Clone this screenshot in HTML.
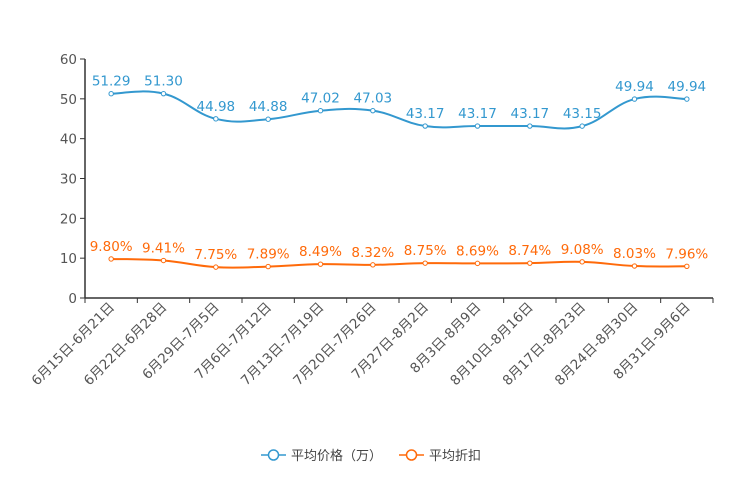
<!DOCTYPE html>
<html><head><meta charset="utf-8"><style>
body{margin:0;background:#fff;}
svg{font-family:"DejaVu Sans","Noto Sans CJK SC",sans-serif;}
</style></head><body>
<svg id="c" width="744" height="496"></svg>
<script>
const categories=["6月15日-6月21日","6月22日-6月28日","6月29日-7月5日","7月6日-7月12日","7月13日-7月19日","7月20日-7月26日","7月27日-8月2日","8月3日-8月9日","8月10日-8月16日","8月17日-8月23日","8月24日-8月30日","8月31日-9月6日"];
const priceValues=[51.29,51.30,44.98,44.88,47.02,47.03,43.17,43.17,43.17,43.15,49.94,49.94];
const discountValues=[9.80,9.41,7.75,7.89,8.49,8.32,8.75,8.69,8.74,9.08,8.03,7.96];
const yTicks=[0,10,20,30,40,50,60];
const svg=document.getElementById('c');const NS='http://www.w3.org/2000/svg';
const L=85,R=713,T=59,B=298;
const bw=(R-L)/categories.length;
const x=i=>L+bw*(i+0.5);
const y=v=>B-(v/60)*(B-T);
function mk(t,a,p){const e=document.createElementNS(NS,t);for(const k in a)e.setAttribute(k,a[k]);(p||svg).appendChild(e);return e;}
yTicks.forEach(v=>{
 const t=mk('text',{x:L-8,y:y(v)+5,'text-anchor':'end','font-size':13.5,fill:'#555'});t.textContent=v;
 
 
 const l=mk('line',{x1:L-5,x2:L,y1:y(v),y2:y(v),stroke:'#333'});
 
 
});
const ya=mk('line',{x1:L,x2:L,y1:T,y2:B,stroke:'#333','stroke-width':1.5});


const xa=mk('line',{x1:L,x2:R,y1:B,y2:B,stroke:'#333','stroke-width':1.5});


for(let i=0;i<=categories.length;i++){
 const l=mk('line',{x1:L+bw*i,x2:L+bw*i,y1:B,y2:B+5,stroke:'#333'});
 
 
}
categories.forEach((c,i)=>{
 const t=mk('text',{transform:`translate(${x(i)+4},${B+10}) rotate(-45)`,'text-anchor':'end','font-size':13.5,fill:'#555'});t.textContent=c;
 
 
});
function path(vals){
 const p=vals.map((v,i)=>[x(i),y(v)]);let d=`M${p[0][0]},${p[0][1]}`;
 for(let i=0;i<p.length-1;i++){
  const p0=p[i-1]||p[i],p1=p[i],p2=p[i+1],p3=p[i+2]||p2,k=0.2;
  d+=` C${p1[0]+(p2[0]-p0[0])*k},${p1[1]+(p2[1]-p0[1])*k} ${p2[0]-(p3[0]-p1[0])*k},${p2[1]-(p3[1]-p1[1])*k} ${p2[0]},${p2[1]}`;
 }return d;
}
function series(vals,color,name,fmt){
 const g=mk('g',{});
 
 
 mk('path',{d:path(vals),fill:'none',stroke:color,'stroke-width':2},g);
 vals.forEach((v,i)=>{
  const c=mk('circle',{cx:x(i),cy:y(v),r:2.2,fill:'#fff',stroke:color,'stroke-width':1},g);
  
  
  const t=mk('text',{x:x(i),y:y(v)-8,'text-anchor':'middle','font-size':13.5,fill:color},g);t.textContent=fmt(v);
  
  
 });
}
series(priceValues,'#3398cf','price-series',v=>v.toFixed(2));
series(discountValues,'#ff6a0a','discount-series',v=>v.toFixed(2)+'%');
function legend(x0,color,label,name){
 const g=mk('g',{});
 
 
 mk('line',{x1:x0,x2:x0+25,y1:455,y2:455,stroke:color,'stroke-width':1.5},g);
 mk('circle',{cx:x0+12.5,cy:455,r:5,fill:'#fff',stroke:color,'stroke-width':1.5},g);
 const t=mk('text',{x:x0+30,y:460,'font-size':13,fill:'#444'},g);t.textContent=label;
}
legend(261,'#3398cf','平均价格（万）','legend-price');
legend(399,'#ff6a0a','平均折扣','legend-discount');
</script>
</body></html>
